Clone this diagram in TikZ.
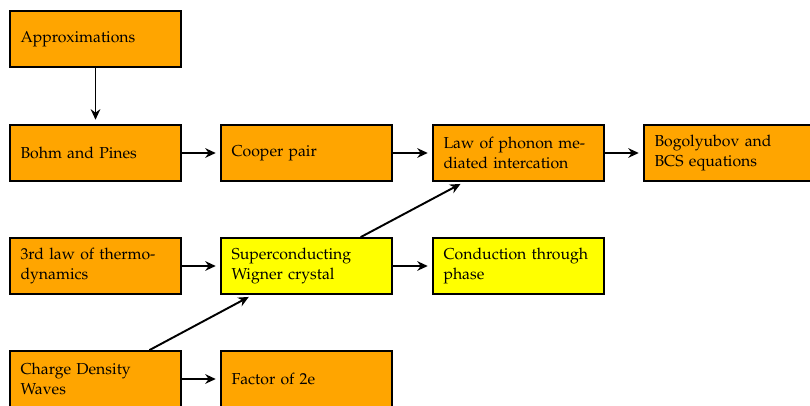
\documentclass[tikz,border=0pt]{standalone}
\usepackage[T1]{fontenc}
\usepackage{mathpazo}
\usetikzlibrary{arrows.meta}
\definecolor{boxorange}{RGB}{255,165,0}
\definecolor{boxyellow}{RGB}{255,255,0}
\begin{document}
\begin{tikzpicture}[x=0.02cm,y=-0.02cm,
  box/.style={draw=black, line width=1pt, fill=boxorange, text width=3cm,
    inner xsep=0.21cm, minimum height=1.12cm, font=\fontsize{9}{11}\selectfont},
  ybox/.style={box, fill=boxyellow},
  conn/.style={-{Stealth[length=6pt,width=5.5pt,inset=2pt]}, line width=1.1pt, shorten >=2.5pt}]
\useasboundingbox (0,0) rectangle (810,405);
\clip (0,0) rectangle (810,405);
\node[box] (approx) at (95.5,39) {Approximations};
\node[box] (bohm) at (95.5,153) {Bohm and Pines};
\node[box] (cooper) at (306.5,153) {Cooper pair};
\node[box] (law) at (518.5,153) {Law of phonon mediated intercation};
\node[box] (bogo) at (729.5,153) {Bogolyubov and BCS equations};
\node[box] (third) at (95.5,266) {3rd law of thermodynamics};
\node[ybox] (super) at (306.5,266) {Superconducting Wigner crystal};
\node[ybox] (cond) at (518.5,266) {Conduction through phase};
\node[box] (charge) at (95.5,379) {Charge Density Waves};
\node[box] (factor) at (306.5,379) {Factor of 2e};
\draw[conn] (approx) -- (bohm);
\draw[conn] (bohm) -- (cooper);
\draw[conn] (cooper) -- (law);
\draw[conn] (law) -- (bogo);
\draw[conn] (third) -- (super);
\draw[conn] (super) -- (cond);
\draw[conn] (charge) -- (factor);
\draw[conn] (charge) -- (super);
\draw[conn] (super) -- (law);
\end{tikzpicture}
\end{document}
